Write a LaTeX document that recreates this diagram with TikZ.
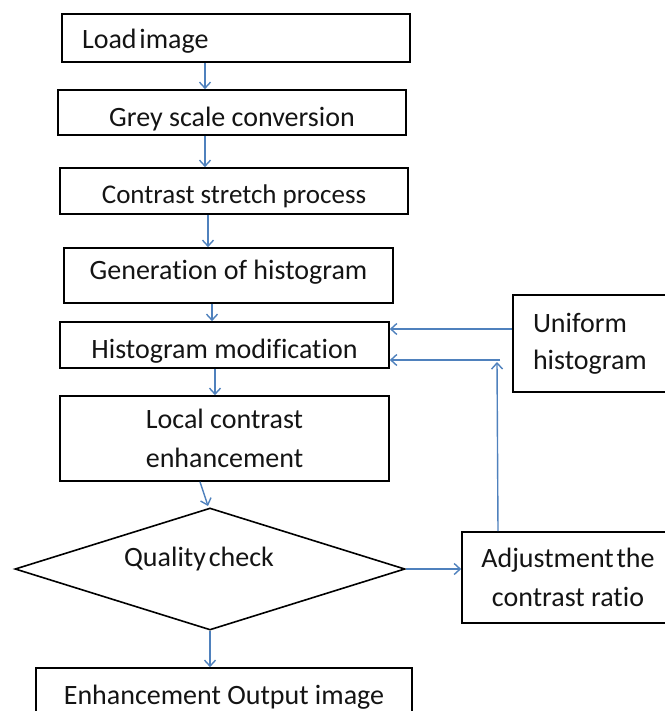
\documentclass[tikz,border=0pt]{standalone}
\usepackage{fontspec}
\setmainfont{Carlito}[Ligatures=NoCommon]
\usetikzlibrary{shapes.geometric,arrows.meta}
\definecolor{arrblue}{RGB}{79,129,189}
\definecolor{txt}{RGB}{20,20,20}
\newcommand{\shifttxt}[2]{\raisebox{#1}[\height][\depth]{#2}}
\tikzset{
  box/.style={draw=black, line width=1.6pt, rectangle, inner sep=0pt, align=center, text=txt, font=\fontsize{28}{39}\selectfont},
  decision/.style={draw=black, line width=1.6pt, diamond, inner sep=0pt, text=txt, font=\fontsize{28}{39}\selectfont},
  arr/.style={draw=arrblue, line width=1.4pt, -{Straight Barb[length=6pt,width=11pt,line width=1.4pt]}},
}
\begin{document}
\begin{tikzpicture}[x=1pt,y=-1pt]
\useasboundingbox (0,0) rectangle (664,711);
\node[box, minimum width=348pt, minimum height=48pt, text width=308pt, align=left] (load) at (236,38) {\shifttxt{-3pt}{Load\hspace{0.1em}image}};
\node[box, minimum width=348pt, minimum height=45pt] (grey) at (232,112.5) {\shifttxt{-7pt}{Grey scale conversion}};
\node[box, minimum width=348pt, minimum height=46pt, font=\fontsize{27}{38}\selectfont] (cont) at (234,191) {\shifttxt{-5pt}{Contrast stretch process}};
\node[box, minimum width=329pt, minimum height=55pt] (gen) at (228.5,275.5) {\shifttxt{3pt}{Generation of histogram}};
\node[box, minimum width=329pt, minimum height=46pt] (hm) at (224.5,345) {\shifttxt{-6pt}{Histogram modification}};
\node[box, minimum width=329pt, minimum height=85pt] (lc) at (224.5,438.5) {Local contrast\\enhancement};
\node[decision, minimum width=390pt, minimum height=122pt, aspect=3.2] (dia) at (210,569) {\hspace*{-22pt}\shifttxt{10pt}{Quality\hspace{0.1em}check}};
\node[box, minimum width=376pt, minimum height=56pt] (out) at (224,696) {\shifttxt{-1pt}{Enhancement Output image}};
\node[box, minimum width=170pt, minimum height=97pt, text width=130pt, align=left, font=\fontsize{28}{37}\selectfont] (uni) at (598,343.5) {Uniform\\histogram};
\node[box, minimum width=218pt, minimum height=91pt] (adj) at (571,577.5) {\hspace*{-6pt}Adjustment\hspace{0.1em}the\\\hspace*{-6pt}contrast ratio};
\coordinate (x205) at (205,0);
\coordinate (x208) at (208,0);
\coordinate (x212) at (212,0);
\coordinate (x215) at (215,0);
\coordinate (x200) at (200,0);
\coordinate (x498) at (498,0);
\coordinate (y329) at (0,329);
\coordinate (y360) at (0,360);
\coordinate (dtop) at (208,506);
\coordinate (vtip) at (497,362);
\coordinate (hstart) at (500,360);
\draw[arr] (x205 |- load.south) -- (x205 |- grey.north);
\draw[arr] (x205 |- grey.south) -- (x205 |- cont.north);
\draw[arr] (x208 |- cont.south) -- (x208 |- gen.north);
\draw[arr] (x212 |- gen.south) -- (x212 |- hm.north);
\draw[arr] (x215 |- hm.south) -- (x215 |- lc.north);
\draw[arr] (x200 |- lc.south) -- (dtop);
\draw[arr] (dia.south) -- (dia.south |- out.north);
\draw[arr] (uni.west |- y329) -- (hm.east |- y329);
\draw[arr] (hstart) -- (hm.east |- y360);
\draw[arr] (x498 |- adj.north) -- (vtip);
\draw[arr] (dia.east) -- (adj.west |- dia.east);
\end{tikzpicture}
\end{document}
